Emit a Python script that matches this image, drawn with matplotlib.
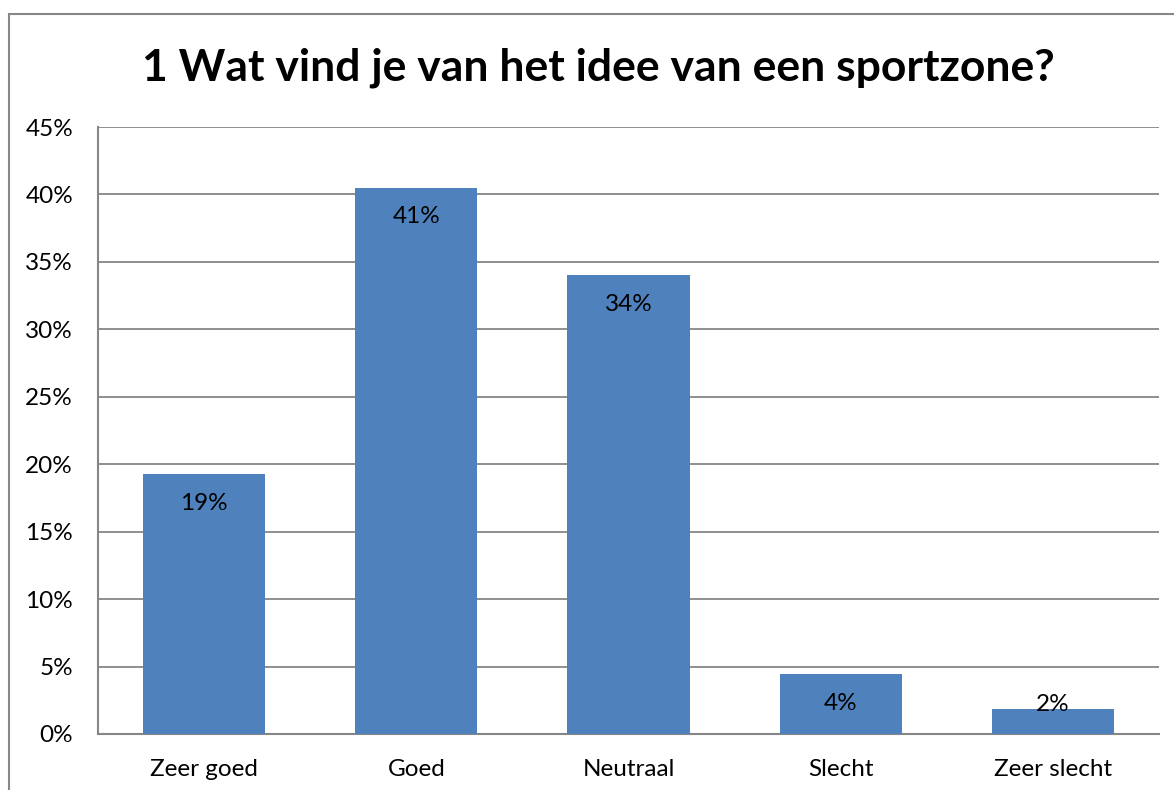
import matplotlib.pyplot as plt
from matplotlib.patches import Rectangle
from matplotlib.ticker import FuncFormatter, MultipleLocator

categories = ['Zeer goed', 'Goed', 'Neutraal', 'Slecht', 'Zeer slecht']
values = [19.25, 40.5, 34.0, 4.45, 1.85]
labels = ['19%', '41%', '34%', '4%', '2%']
title = '1 Wat vind je van het idee van een sportzone?'

plt.rcParams['font.family'] = ['Lato', 'DejaVu Sans']

fig = plt.figure(figsize=(11.74, 7.90), dpi=100)
ax = fig.add_axes([98 / 1174, 56 / 790, (1159 - 98) / 1174, (734 - 127) / 790])

# outer chart frame (left and top visible)
fig.patches.append(Rectangle((9 / 1174, -0.1), 1.2, (790 - 14) / 790 + 0.1,
                             transform=fig.transFigure, fill=False,
                             edgecolor='#878787', linewidth=1.5))

x = range(len(categories))
bars = ax.bar(x, values, width=0.575, color='#4F81BD', zorder=3)

ax.set_xlim(-0.5, len(categories) - 0.5)
ax.set_ylim(0, 45)
ax.yaxis.set_major_locator(MultipleLocator(5))
ax.yaxis.set_major_formatter(FuncFormatter(lambda v, p: f'{v:.0f}%'))
ax.grid(axis='y', color='#868686', linewidth=1.3, zorder=0)
ax.set_xticks(list(x))
ax.set_xticklabels(categories)
ax.tick_params(axis='both', length=0, labelsize=17.5, colors='black')
ax.tick_params(axis='y', pad=18)
ax.tick_params(axis='x', pad=18)

for s in ['top', 'right']:
    ax.spines[s].set_visible(False)
for s in ['left', 'bottom']:
    ax.spines[s].set_color('#868686')
    ax.spines[s].set_linewidth(1.5)

for xi, v, lab in zip(x, values, labels):
    if v > 3:
        ax.annotate(lab, (xi, v), xytext=(0, -21), textcoords='offset points',
                    ha='center', va='center', fontsize=17.5, zorder=4)
    else:
        ax.annotate(lab, (xi, v), xytext=(0, 3), textcoords='offset points',
                    ha='center', va='center', fontsize=17.5, zorder=4)

fig.text(0.51, 1 - 68 / 790, title, ha='center', va='center',
         fontsize=32, fontweight='bold')

fig.savefig('out.png', dpi=100)
